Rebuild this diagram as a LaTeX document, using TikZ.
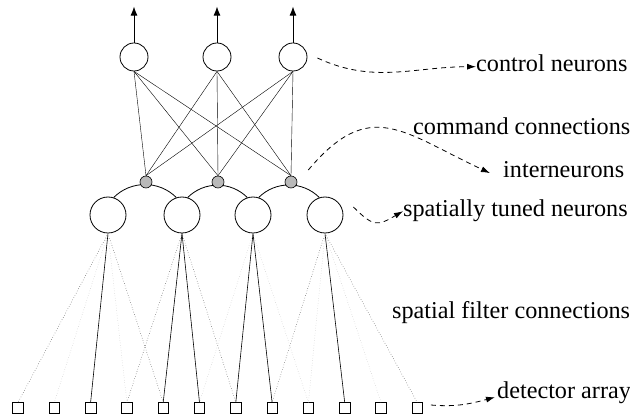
\documentclass[tikz,border=0pt]{standalone}
\usepackage{fontspec}
\setmainfont{Liberation Serif}
\usetikzlibrary{arrows.meta,positioning,calc}

\begin{document}
\begin{tikzpicture}[
  x=1pt, y=1pt,
  ctrl/.style={draw, circle, minimum size=28pt, inner sep=0pt, line width=0.8pt},
  tuned/.style={draw, circle, minimum size=36pt, inner sep=0pt, line width=0.8pt},
  inter/.style={draw, circle, minimum size=12pt, inner sep=0pt, line width=0.6pt, fill=gray!55},
  det/.style={draw, minimum size=10.5pt, inner sep=0pt, line width=0.6pt},
  cmd/.style={line width=0.4pt},
  strong/.style={line width=0.6pt},
  weak/.style={dotted, line width=0.5pt, black!70},
  faint/.style={dotted, line width=0.5pt, black!22},
  upar/.style={-{Latex[length=9pt,width=7pt]}, line width=0.9pt},
  lbl/.style={-{Latex[length=9pt,width=6pt]}, line width=0.8pt, dash pattern=on 5pt off 4pt},
  note/.style={anchor=base west, inner sep=0pt, font=\fontsize{24.2}{29}\selectfont}
]
\useasboundingbox (0,0) rectangle (630,418);

% control neurons
\foreach \n/\x in {1/134, 2/217, 3/293}
  \node[ctrl] (c\n) at (\x,361) {};
% spatially tuned neurons
\foreach \n/\x in {1/108, 2/182, 3/253, 4/325}
  \node[tuned] (s\n) at (\x,203) {};
% detector array
\foreach \n in {1,...,12}
  \node[det] (d\n) at ({18+36.3*(\n-1)},10) {};

% arcs between tuned neurons
\foreach \a/\b in {1/2, 2/3, 3/4}
  \draw[line width=0.8pt] (s\a.72) to[out=45,in=135] (s\b.108);

% interneurons
\foreach \n/\x in {1/146, 2/218, 3/291}
  \node[inter] (i\n) at (\x,236) {};

% command connections
\foreach \j in {1,2,3}
  \foreach \k in {1,2,3}
    \draw[cmd] (c\j.south) -- (i\k.north);

\foreach \n in {1,2,3}
  \draw[upar] (c\n.north) -- +(0,36);

% spatial filter connections
\foreach \s/\d in {1/3, 2/5, 2/6, 3/7, 3/8, 4/10}
  \draw[strong] (s\s.south) -- (d\d.north);
\foreach \s/\d in {1/1, 1/5, 2/4, 2/7, 4/8, 4/12}
  \draw[weak] (s\s.south) -- (d\d.north);
\foreach \s/\d in {1/2, 1/4, 3/6, 3/9, 4/9, 4/11}
  \draw[faint] (s\s.south) -- (d\d.north);

% labels
\node[note] (lctrl) at (476,346) {control neurons};
\node[note] (lcmd) at (413,283) {command connections};
\node[note] (linter) at (503,240) {interneurons};
\node[note] (ltuned) at (403,201) {spatially tuned neurons};
\node[note] (lfilter) at (392,99) {spatial filter connections};
\node[note] (ldet) at (497,19) {detector array};

\draw[lbl] ($(c3.east)+(10,-1)$) to[out=-25,in=180] ($(lctrl.west)+(0,-3)$);
\draw[lbl] ($(i3.east)+(11,12)$) to[out=50,in=155,looseness=1.35] ($(linter.west)+(-13,-3)$);
\draw[lbl] ($(s4.east)+(10,8)$) to[out=-45,in=210,looseness=1.5] (ltuned.west);
\draw[lbl] ($(d12.east)+(8,3)$) to[out=-5,in=195] ($(ldet.west)+(-2,-4)$);

\end{tikzpicture}
\end{document}
